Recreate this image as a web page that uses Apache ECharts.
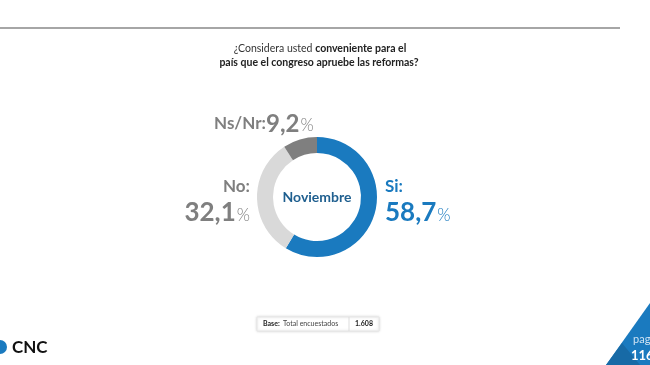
<!DOCTYPE html>
<html><head><meta charset="utf-8">
<script src="https://cdn.jsdelivr.net/npm/echarts@6/dist/echarts.min.js"></script>
<style>html,body{margin:0;padding:0;background:#fff}#c{width:650px;height:365px}</style>
</head><body><div id="c"></div>
<script>
var categories = ['Si', 'No', 'Ns/Nr'];
var values = [58.7, 32.1, 9.2];
var colors = ['#1a7abf', '#d9d9d9', '#7f7f7f'];
var centerLabel = 'Noviembre';
var baseLabel = 'Total encuestados';
var baseValue = '1.608';

function fmt(v){ return v.toFixed(1).replace('.', ','); }
var F = '"Lato","Open Sans",sans-serif';
var G = '#7f7f7f', B = '#1a7abf';
var chart = echarts.init(document.getElementById('c'));
chart.setOption({
  animation:false,
  series:[{
    type:'pie', center:[317,197], radius:[44,60], startAngle:90, clockwise:true,
    label:{show:false}, labelLine:{show:false}, silent:true,
    data: categories.map(function(c,i){return {name:c, value:values[i], itemStyle:{color:colors[i]}};})
  }],
  graphic:[
    {type:'line', shape:{x1:0,y1:28,x2:620,y2:28}, style:{stroke:'#a6a6a6', lineWidth:2}},
    {type:'text', x:320, y:49, style:{align:'center', verticalAlign:'middle', text:'{a|¿Considera usted }{b|conveniente para el}', rich:{a:{fontFamily:F,fontSize:10.5,fill:'#333'},b:{fontFamily:F,fontSize:10.5,fontWeight:'bold',fill:'#222'}}}},
    {type:'text', x:319, y:63, style:{align:'center', verticalAlign:'middle', text:'país que el congreso apruebe las reformas?', fontFamily:F, fontSize:10.5, fontWeight:'bold', fill:'#222'}},
    {type:'circle', shape:{cx:317,cy:197,r:46}, style:{fill:'#fff', shadowBlur:6, shadowColor:'rgba(0,0,0,0.35)'}},
    {type:'text', x:317, y:197, style:{text:centerLabel, fontFamily:F, fontSize:14, fontWeight:'bold', fill:'#1f5f8f', align:'center', verticalAlign:'middle'}},
    // Ns/Nr
    {type:'text', x:214, y:124, style:{align:'left', verticalAlign:'middle', text:'{l|'+categories[2]+':}{v|'+fmt(values[2])+'}{p|%}', rich:{l:{fontFamily:F,fontSize:17,fill:G,fontWeight:'bold'},v:{fontFamily:F,fontSize:24,fill:G,fontWeight:'bold'},p:{fontFamily:F,fontSize:17,fill:G,fontWeight:300,padding:[4,0,0,1]}}}},
    // No
    {type:'text', x:250, y:187, style:{align:'right', verticalAlign:'middle', text:categories[1]+':', fontFamily:F, fontSize:17, fontWeight:'bold', fill:G}},
    {type:'text', x:250, y:213, style:{align:'right', verticalAlign:'middle', text:'{v|'+fmt(values[1])+'}{p|%}', rich:{v:{fontFamily:F,fontSize:26,fill:G,fontWeight:'bold'},p:{fontFamily:F,fontSize:17,fill:G,fontWeight:300,padding:[5,0,0,1]}}}},
    // Si
    {type:'text', x:385, y:187, style:{align:'left', verticalAlign:'middle', text:categories[0]+':', fontFamily:F, fontSize:17, fontWeight:'bold', fill:B}},
    {type:'text', x:385, y:213, style:{align:'left', verticalAlign:'middle', text:'{v|'+fmt(values[0])+'}{p|%}', rich:{v:{fontFamily:F,fontSize:26,fill:B,fontWeight:'bold'},p:{fontFamily:F,fontSize:17,fill:B,fontWeight:300,padding:[5,0,0,1]}}}},
    // base box
    {type:'rect', shape:{x:257,y:317,width:122,height:14}, style:{fill:'#fff', stroke:'#e6e6e6', lineWidth:1, shadowBlur:3, shadowColor:'rgba(0,0,0,0.15)'}},
    {type:'line', shape:{x1:349,y1:317,x2:349,y2:331}, style:{stroke:'#ddd', lineWidth:1}},
    {type:'text', x:263, y:324, style:{verticalAlign:'middle', text:'{b|Base:} {a|'+baseLabel+'}', rich:{b:{fontFamily:F,fontSize:7,fontWeight:'bold',fill:'#222'},a:{fontFamily:F,fontSize:7,fill:'#444'}}}},
    {type:'text', x:364, y:324, style:{align:'center', verticalAlign:'middle', text:baseValue, fontFamily:F, fontSize:7, fontWeight:'bold', fill:'#222'}},
    // CNC logo
    {type:'circle', shape:{cx:0,cy:347,r:7}, style:{fill:'#1a7abf'}},
    {type:'text', x:12, y:348, style:{verticalAlign:'middle', text:'CNC', fontFamily:F, fontSize:17, fontWeight:'bold', fill:'#111'}},
    // triangle bottom right
    {type:'polygon', shape:{points:[[606,365],[650,303],[650,365]]}, style:{fill:'#1a7abf'}},
    {type:'polygon', shape:{points:[[606,365],[622,343],[640,365]]}, style:{fill:'#176aa6'}},
    {type:'text', x:633, y:339, style:{verticalAlign:'middle', text:'pag', fontFamily:F, fontSize:11, fill:'#cfe3f3'}},
    {type:'text', x:631, y:356, style:{verticalAlign:'middle', text:'116', fontFamily:F, fontSize:13, fontWeight:'bold', fill:'#fff'}}
  ]
});
</script></body></html>
